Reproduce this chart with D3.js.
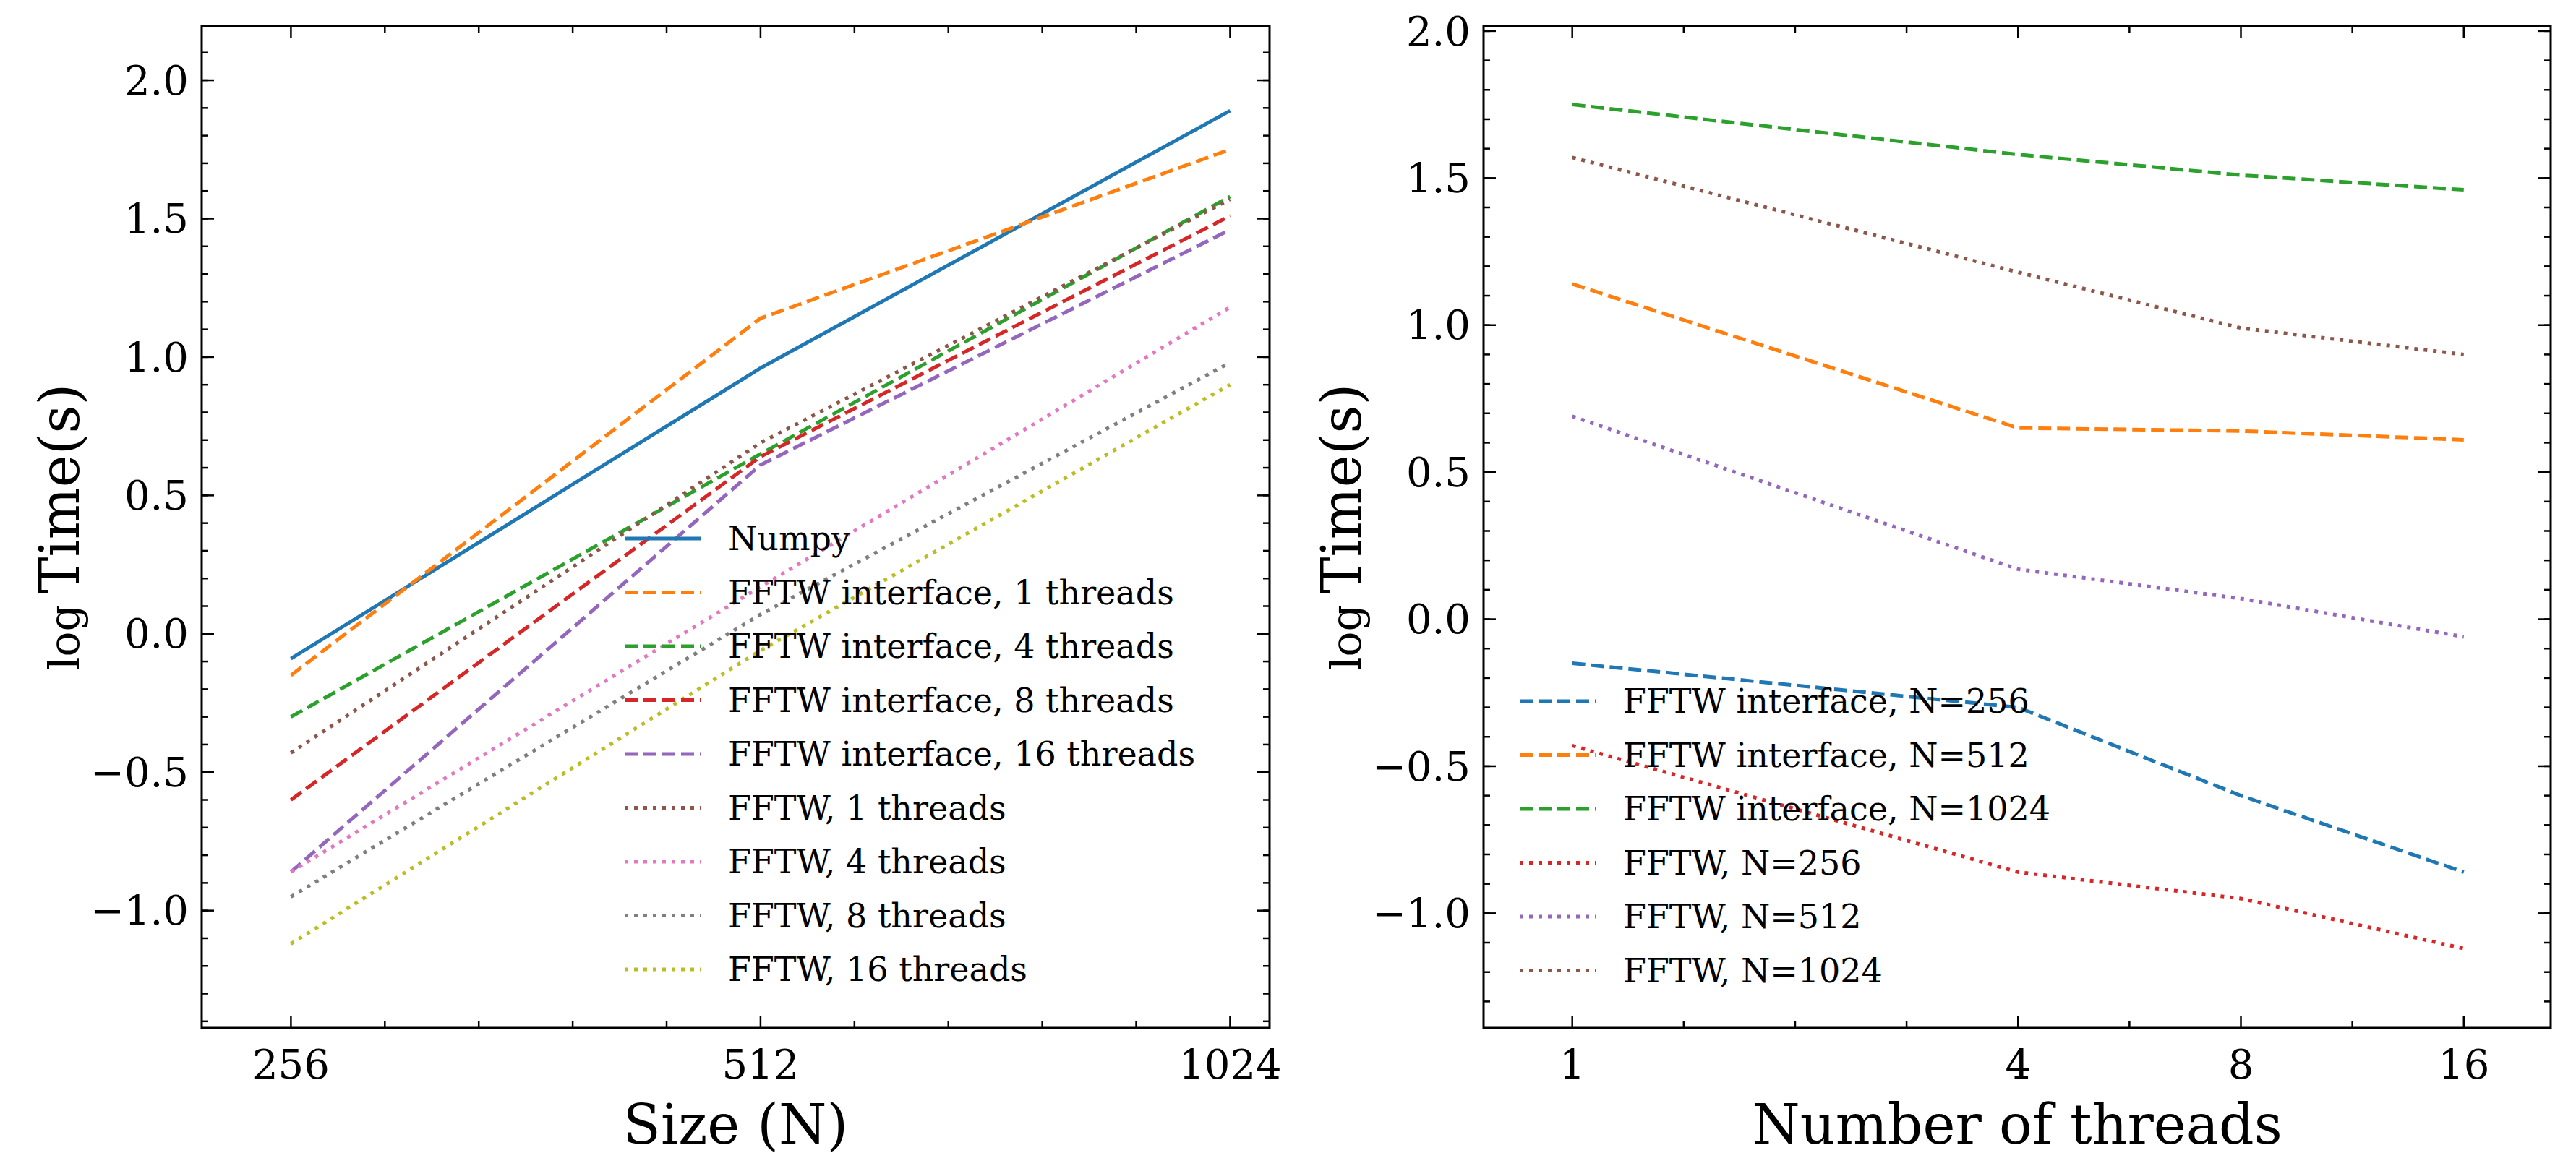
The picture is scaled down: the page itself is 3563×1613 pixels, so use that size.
<!DOCTYPE html>
<html><head><meta charset="utf-8">
<script src="https://cdn.jsdelivr.net/npm/d3@7"></script>
<style>body{margin:0;background:#fff}svg{display:block;font-family:"DejaVu Serif",serif}</style>
</head><body>
<script>
// left panel data
const sizes = [256, 512, 1024];
const leftSeries = [
  {name: "Numpy", color: "#1f77b4", style: "solid", values: [-0.09, 0.96, 1.89]},
  {name: "FFTW interface, 1 threads", color: "#ff7f0e", style: "dash", values: [-0.15, 1.14, 1.75]},
  {name: "FFTW interface, 4 threads", color: "#2ca02c", style: "dash", values: [-0.30, 0.65, 1.58]},
  {name: "FFTW interface, 8 threads", color: "#d62728", style: "dash", values: [-0.60, 0.64, 1.51]},
  {name: "FFTW interface, 16 threads", color: "#9467bd", style: "dash", values: [-0.86, 0.61, 1.46]},
  {name: "FFTW, 1 threads", color: "#8c564b", style: "dot", values: [-0.43, 0.69, 1.57]},
  {name: "FFTW, 4 threads", color: "#e377c2", style: "dot", values: [-0.86, 0.17, 1.18]},
  {name: "FFTW, 8 threads", color: "#7f7f7f", style: "dot", values: [-0.95, 0.07, 0.98]},
  {name: "FFTW, 16 threads", color: "#bcbd22", style: "dot", values: [-1.12, -0.06, 0.90]}
];
// right panel data
const threads = [1, 4, 8, 16];
const rightSeries = [
  {name: "FFTW interface, N=256", color: "#1f77b4", style: "dash", values: [-0.15, -0.30, -0.60, -0.86]},
  {name: "FFTW interface, N=512", color: "#ff7f0e", style: "dash", values: [1.14, 0.65, 0.64, 0.61]},
  {name: "FFTW interface, N=1024", color: "#2ca02c", style: "dash", values: [1.75, 1.58, 1.51, 1.46]},
  {name: "FFTW, N=256", color: "#d62728", style: "dot", values: [-0.43, -0.86, -0.95, -1.12]},
  {name: "FFTW, N=512", color: "#9467bd", style: "dot", values: [0.69, 0.17, 0.07, -0.06]},
  {name: "FFTW, N=1024", color: "#8c564b", style: "dot", values: [1.57, 1.18, 0.99, 0.90]}
];
const yTicks = [-1.0, -0.5, 0.0, 0.5, 1.0, 1.5, 2.0];

const W = 3563, H = 1613;
const svg = d3.select("body").append("svg").attr("width", W).attr("height", H);
const dashes = {solid: null, dash: "18,8", dot: "5,8"};
const fmt = v => (v < 0 ? "\u2212" : "") + Math.abs(v).toFixed(1);

function panel(opt) {
  const {left, right, top, bottom, xVals, series, xDomain, yDomain, xTicks, xMinor, xLabel, legend} = opt;
  const x = d3.scaleLog().base(2).domain(xDomain).range([left, right]);
  const y = d3.scaleLinear().domain(yDomain).range([bottom, top]);
  const g = svg.append("g");

  // lines
  const line = d3.line().x(d => x(d[0])).y(d => y(d[1]));
  series.forEach(s => {
    g.append("path").attr("d", line(xVals.map((v, i) => [v, s.values[i]])))
      .attr("fill", "none").attr("stroke", s.color).attr("stroke-width", 5)
      .attr("stroke-dasharray", dashes[s.style]);
  });

  // ticks (inward, all sides)
  const yMinor = d3.range(Math.ceil(yDomain[0] * 10), Math.floor(yDomain[1] * 10) + 1).map(v => v / 10);
  const tick = (x1, y1, x2, y2) => g.append("line").attr("x1", x1).attr("y1", y1).attr("x2", x2).attr("y2", y2)
    .attr("stroke", "#000").attr("stroke-width", 2.5);
  yMinor.forEach(v => { tick(left, y(v), left + 9, y(v)); tick(right, y(v), right - 9, y(v)); });
  yTicks.forEach(v => {
    tick(left, y(v), left + 17, y(v)); tick(right, y(v), right - 17, y(v));
    g.append("text").attr("x", left - 18).attr("y", y(v)).attr("dy", "0.35em")
      .attr("text-anchor", "end").attr("font-size", 56).text(fmt(v));
  });
  xMinor.forEach(v => { tick(x(v), bottom, x(v), bottom - 9); tick(x(v), top, x(v), top + 9); });
  xTicks.forEach(v => {
    tick(x(v), bottom, x(v), bottom - 17); tick(x(v), top, x(v), top + 17);
    g.append("text").attr("x", x(v)).attr("y", bottom + 70).attr("text-anchor", "middle")
      .attr("font-size", 56).text(v);
  });
  g.append("rect").attr("x", left).attr("y", top).attr("width", right - left).attr("height", bottom - top)
    .attr("fill", "none").attr("stroke", "#000").attr("stroke-width", 3);

  // labels
  g.append("text").attr("x", (left + right) / 2).attr("y", bottom + 160).attr("text-anchor", "middle")
    .attr("font-size", 76).text(xLabel);
  const yl = g.append("text").attr("transform", `translate(${left - 170},${(top + bottom) / 2}) rotate(-90)`)
    .attr("text-anchor", "middle").attr("font-size", 76);
  yl.append("tspan").attr("font-size", 58).text("log");
  yl.append("tspan").text("\u2009Time(s)");

  // legend
  series.forEach((s, i) => {
    const ly = legend.y + i * legend.dy;
    g.append("line").attr("x1", legend.x).attr("x2", legend.x + 106).attr("y1", ly).attr("y2", ly)
      .attr("stroke", s.color).attr("stroke-width", 5).attr("stroke-dasharray", dashes[s.style]);
    g.append("text").attr("x", legend.x + 143).attr("y", ly).attr("dy", "0.35em")
      .attr("font-size", 46).text(s.name);
  });
}

panel({
  left: 279, right: 1756, top: 36, bottom: 1422, xVals: sizes, series: leftSeries,
  xDomain: [2 ** 7.81, 2 ** 10.084], yDomain: [-1.424, 2.196],
  xTicks: sizes, xMinor: d3.range(1, 10).filter(i => i % 5 !== 0).map(i => 256 * 2 ** (i / 5)),
  xLabel: "Size (N)", legend: {x: 864, y: 745, dy: 74.5}
});
panel({
  left: 2052, right: 3528, top: 36, bottom: 1422, xVals: threads, series: rightSeries,
  xDomain: [2 ** -0.398, 2 ** 4.39], yDomain: [-1.39, 2.017],
  xTicks: threads, xMinor: [0.5, 1, 1.5, 2.5, 3.5].map(e => 2 ** e),
  xLabel: "Number of threads", legend: {x: 2102, y: 970, dy: 74.5}
});
</script>
</body></html>
